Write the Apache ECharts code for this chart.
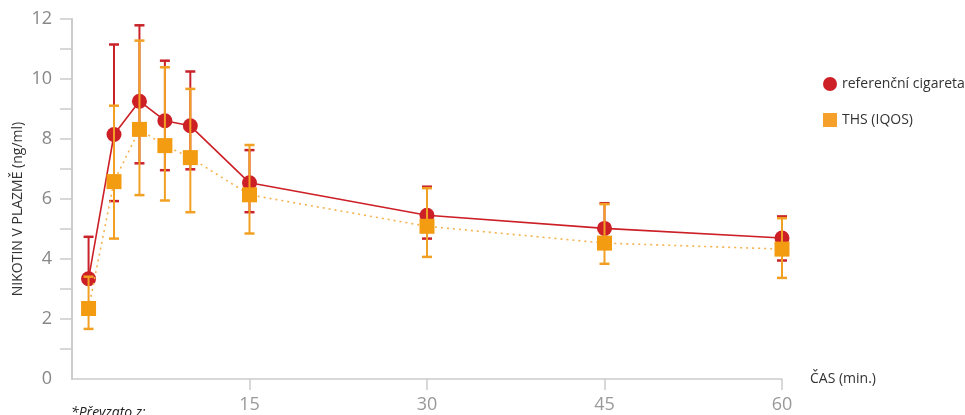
<!DOCTYPE html>
<html>
<head>
<meta charset="utf-8">
<script src="https://cdn.jsdelivr.net/npm/echarts@6/dist/echarts.min.js"></script>
<style>
  html, body { margin: 0; padding: 0; background: #fff; }
  #chart { width: 965px; height: 415px; }
</style>
</head>
<body>
<div id="chart"></div>
<script>
const times = [1.4, 3.55, 5.7, 7.85, 10, 15, 30, 45, 60];
const cigMean = [3.34, 8.15, 9.26, 8.61, 8.44, 6.54, 5.46, 5.02, 4.70];
const cigHigh = [4.74, 11.15, 11.79, 10.61, 10.25, 7.63, 6.41, 5.86, 5.42];
const cigLow = [3.34, 5.93, 7.19, 6.96, 6.99, 5.56, 4.68, 4.45, 3.95];
const thsMean = [2.35, 6.58, 8.32, 7.78, 7.38, 6.14, 5.09, 4.53, 4.33];
const thsHigh = [3.41, 9.11, 11.28, 10.39, 9.67, 7.80, 6.36, 5.83, 5.36];
const thsLow = [1.67, 4.68, 6.13, 5.95, 5.56, 4.85, 4.07, 3.84, 3.37];
const xTicks = [15, 30, 45, 60];
const yLabels = [0, 2, 4, 6, 8, 10, 12];
const yTicks = [1, 2, 3, 4, 5, 6, 7, 8, 9, 10, 11, 12];

const RED = '#cc1f26';
const ORANGE = '#f39c12';
const FONT = '"Open Sans", "DejaVu Sans", sans-serif';

const errorBars = (color, width) => (params, api) => {
  const x = api.value(0);
  const top = api.coord([x, api.value(2)]);
  const bottom = api.coord([x, api.value(1)]);
  const half = 5;
  const style = { stroke: color, lineWidth: width };
  return {
    type: 'group',
    children: [
      { type: 'line', shape: { x1: top[0], y1: top[1], x2: bottom[0], y2: bottom[1] }, style: { stroke: color, lineWidth: 2 } },
      { type: 'line', shape: { x1: top[0] - half, y1: top[1], x2: top[0] + half, y2: top[1] }, style },
      { type: 'line', shape: { x1: bottom[0] - half, y1: bottom[1], x2: bottom[0] + half, y2: bottom[1] }, style }
    ]
  };
};

const chart = echarts.init(document.getElementById('chart'));
chart.setOption({
  animation: false,
  textStyle: { fontFamily: FONT },
  grid: { left: 72, right: 183, top: 19, bottom: 36, outerBoundsMode: 'none', containLabel: false },
  legend: {
    orient: 'vertical',
    left: 818,
    top: 72,
    itemWidth: 14,
    itemHeight: 14,
    itemGap: 22,
    textStyle: { color: '#333', fontSize: 14, fontFamily: FONT },
    data: [
      { name: 'referenční cigareta', icon: 'circle', itemStyle: { color: RED } },
      { name: 'THS (IQOS)', icon: 'rect', itemStyle: { color: '#f5a02a' } }
    ]
  },
  xAxis: {
    type: 'value',
    min: 0,
    max: 60,
    interval: 15,
    name: 'ČAS (min.)',
    nameLocation: 'end',
    nameGap: 28,
    nameTextStyle: { color: '#333', fontSize: 14, verticalAlign: 'middle', align: 'left' },
    axisLine: { show: true, lineStyle: { color: '#cccccc', width: 1.5 } },
    axisTick: { show: true, length: 11, customValues: xTicks, lineStyle: { color: '#cccccc', width: 1.5 } },
    axisLabel: { customValues: xTicks, color: '#999', fontSize: 18, margin: 17 },
    splitLine: { show: false }
  },
  yAxis: {
    type: 'value',
    min: 0,
    max: 12,
    interval: 1,
    axisLine: { show: true, lineStyle: { color: '#cccccc', width: 2 } },
    axisTick: { show: true, length: 12, customValues: yTicks, lineStyle: { color: '#cccccc', width: 1.5 } },
    axisLabel: { customValues: yLabels, color: '#888', fontSize: 18, margin: 20 },
    splitLine: { show: false }
  },
  series: [
    {
      type: 'custom',
      name: 'cigErr',
      renderItem: errorBars('#c9222a', 2.5),
      encode: { x: 0, y: [1, 2] },
      data: times.map((t, i) => [t, cigLow[i], cigHigh[i]]),
      z: 2
    },
    {
      type: 'line',
      name: 'referenční cigareta',
      data: times.map((t, i) => [t, cigMean[i]]),
      symbol: 'circle',
      symbolSize: 15,
      itemStyle: { color: RED },
      lineStyle: { color: RED, width: 1.6 },
      z: 3
    },
    {
      type: 'custom',
      name: 'thsErr',
      renderItem: errorBars('#f2a024', 2.5),
      encode: { x: 0, y: [1, 2] },
      data: times.map((t, i) => [t, thsLow[i], thsHigh[i]]),
      z: 4
    },
    {
      type: 'line',
      name: 'THS (IQOS)',
      data: times.map((t, i) => [t, thsMean[i]]),
      symbol: 'rect',
      symbolSize: 15,
      itemStyle: { color: ORANGE },
      lineStyle: { color: '#f5b24e', width: 1.6, type: [2, 4] },
      z: 5
    }
  ],
  graphic: [
    {
      type: 'text',
      x: 18,
      y: 209,
      rotation: Math.PI / 2,
      style: { text: 'NIKOTIN V PLAZMĚ (ng/ml)', fill: '#333', font: '14px ' + FONT, align: 'center', verticalAlign: 'middle' }
    },
    {
      type: 'text',
      left: 71,
      top: 406,
      style: { text: '*Převzato z:', fill: '#222', font: 'italic 14px ' + FONT }
    }
  ]
});
</script>
</body>
</html>
